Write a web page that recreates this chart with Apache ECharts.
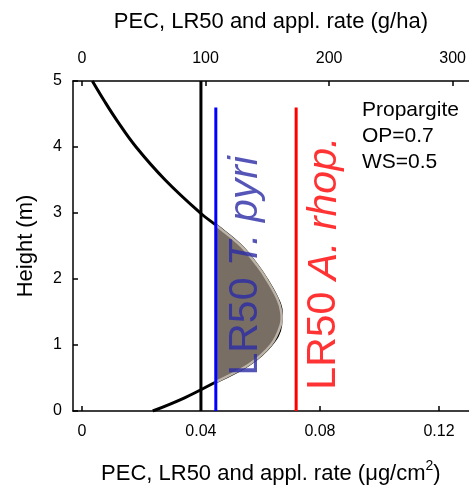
<!DOCTYPE html>
<html>
<head>
<meta charset="utf-8">
<script src="https://cdn.jsdelivr.net/npm/echarts@6/dist/echarts.min.js"></script>
<style>
  html, body { margin: 0; padding: 0; background: #fff; }
  #chart { width: 469px; height: 490px; }
</style>
</head>
<body>
<div id="chart"></div>
<script>
// Vertical PEC profile of propargite drift (µg/cm²) against height (m)
const heights = [0, 0.2, 0.44, 0.7, 1.0, 1.3, 1.5, 1.7, 2.0, 2.2, 2.5, 2.8, 3.0, 3.5, 4.0, 4.4, 4.7, 5.0];
const pec     = [0.0238, 0.0345, 0.045, 0.056, 0.0635, 0.0668, 0.067, 0.0657, 0.062, 0.059, 0.0535, 0.0455, 0.0398, 0.028, 0.0182, 0.0118, 0.0075, 0.0035];

// Reference levels (µg/cm²) and the heights they are drawn to
const applRate   = 0.04;   const applTop   = 5;
const lr50Tpyri  = 0.045;  const lr50TTop  = 4.6;
const lr50Arhop  = 0.072;  const lr50ATop  = 4.6;

// Tick labels
const bottomTicks = [0, 0.04, 0.08, 0.12];
const topTicks    = [0, 100, 200, 300];
const heightTicks = [0, 1, 2, 3, 4, 5];

const FONT = 'Liberation Sans, Arial, sans-serif';

const curveData = pec.map((v, i) => [v, heights[i]]);

// Region where the profile exceeds the T. pyri LR50
function exceedPolygon() {
  const pts = [];
  for (let i = 0; i < pec.length; i++) {
    if (i > 0) {
      const a = pec[i - 1] - lr50Tpyri, b = pec[i] - lr50Tpyri;
      if ((a < 0) !== (b < 0) && a !== b) {
        const t = a / (a - b);
        pts.push([lr50Tpyri, heights[i - 1] + t * (heights[i] - heights[i - 1])]);
      }
    }
    if (pec[i] >= lr50Tpyri) pts.push([pec[i], heights[i]]);
  }
  return pts;
}

const chart = echarts.init(document.getElementById('chart'));

const tickStyle = { show: true, inside: true, length: 5, lineStyle: { color: '#000', width: 1.5 } };
const axisLineStyle = { show: true, onZero: false, lineStyle: { color: '#000', width: 1.5 } };
const labelStyle = { color: '#000', fontSize: 16, fontFamily: FONT };
const nameStyle = { color: '#000', fontSize: 22, fontFamily: FONT };

chart.setOption({
  animation: false,
  backgroundColor: '#fff',
  grid: { left: 73, right: 0, top: 81, bottom: 78 },
  xAxis: [
    {
      type: 'value', position: 'bottom', min: -0.003, max: 0.13,
      axisLine: axisLineStyle,
      axisTick: Object.assign({}, tickStyle, { customValues: bottomTicks }),
      axisLabel: Object.assign({}, labelStyle, { customValues: bottomTicks, margin: 13,
        formatter: v => String(v) }),
      splitLine: { show: false },
      name: '{t|PEC, LR50 and appl. rate (μg/cm}{s|2}{t|)}',
      nameLocation: 'middle', nameGap: 48,
      nameTextStyle: {
        rich: {
          t: { fontSize: 22, fontFamily: FONT, color: '#000', verticalAlign: 'bottom', lineHeight: 26 },
          s: { fontSize: 14, fontFamily: FONT, color: '#000', verticalAlign: 'top', lineHeight: 26, padding: [0, 0, 12, 0] }
        }
      }
    },
    {
      type: 'value', position: 'top', min: -7.3, max: 313,
      axisLine: axisLineStyle,
      axisTick: Object.assign({}, tickStyle, { customValues: topTicks }),
      axisLabel: Object.assign({}, labelStyle, { customValues: topTicks, margin: 14 }),
      splitLine: { show: false },
      name: 'PEC, LR50 and appl. rate (g/ha)',
      nameLocation: 'middle', nameGap: 48,
      nameTextStyle: nameStyle
    }
  ],
  yAxis: {
    type: 'value', min: 0, max: 5, interval: 1,
    axisLine: axisLineStyle,
    axisTick: tickStyle,
    axisLabel: Object.assign({}, labelStyle, { margin: 11, customValues: heightTicks }),
    splitLine: { show: false },
    name: 'Height (m)', nameLocation: 'middle', nameGap: 36, nameRotate: 90,
    nameTextStyle: nameStyle
  },
  graphic: [{
    type: 'text', left: 362, top: 97, z: 10,
    style: {
      text: 'Propargite\nOP=0.7\nWS=0.5',
      fontSize: 21, fontFamily: FONT, fill: '#000', lineHeight: 26
    }
  }],
  series: [
    {
      name: 'PEC', type: 'line', xAxisIndex: 0, data: curveData,
      smooth: 0.4, symbol: 'none', z: 2,
      lineStyle: { color: '#000', width: 3 }
    },
    {
      name: 'exceedance', type: 'custom', xAxisIndex: 0, z: 3,
      data: [[lr50Tpyri, 0]],
      renderItem: function (params, api) {
        const points = exceedPolygon().map(p => api.coord(p));
        return {
          type: 'polygon',
          shape: { points: points, smooth: 0.35 },
          style: { fill: '#786e64', stroke: '#bdb4a8', lineWidth: 2.5 }
        };
      }
    },
    {
      name: 'appl. rate', type: 'line', xAxisIndex: 0, symbol: 'none', z: 4,
      data: [[applRate, 0], [applRate, applTop]],
      lineStyle: { color: '#000', width: 3 }
    },
    {
      name: 'LR50 T. pyri', type: 'line', xAxisIndex: 0, symbol: 'none', z: 4,
      data: [[lr50Tpyri, 0], [lr50Tpyri, lr50TTop]],
      lineStyle: { color: '#0000ff', width: 3 }
    },
    {
      name: 'LR50 A. rhop.', type: 'line', xAxisIndex: 0, symbol: 'none', z: 4,
      data: [[lr50Arhop, 0], [lr50Arhop, lr50ATop]],
      lineStyle: { color: '#ff0000', width: 3 }
    },
    {
      name: 'labels', type: 'scatter', xAxisIndex: 0, symbolSize: 0, z: 6,
      silent: true,
      data: [
        { value: [0.0549, 2.2], label: {
            show: true, position: 'inside', rotate: 90,
            formatter: '{n|LR50 }{i|T. pyri}',
            rich: {
              n: { fontSize: 41, fontFamily: FONT, color: '#2b2ba6' },
              i: { fontSize: 41, fontFamily: FONT, color: '#2b2ba6', fontStyle: 'italic' }
            } } },
        { value: [0.0814, 2.24], label: {
            show: true, position: 'inside', rotate: 90,
            formatter: '{n|LR50 }{i|A. rhop.}',
            rich: {
              n: { fontSize: 41, fontFamily: FONT, color: '#ff0000' },
              i: { fontSize: 41, fontFamily: FONT, color: '#ff0000', fontStyle: 'italic' }
            } } }
      ]
    }
  ]
});
</script>
</body>
</html>
